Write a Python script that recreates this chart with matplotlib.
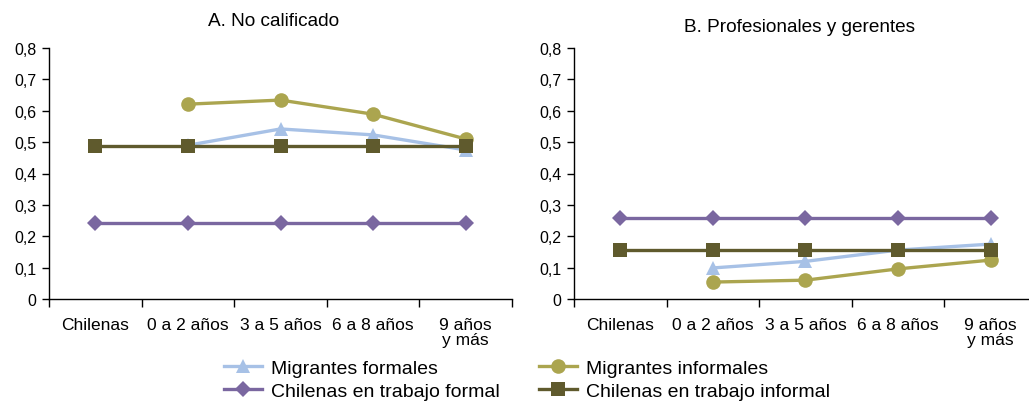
import matplotlib
matplotlib.use("Agg")
import matplotlib.pyplot as plt
from matplotlib.ticker import FixedLocator, NullFormatter

plt.rcParams['font.family'] = ['Liberation Sans', 'DejaVu Sans']

categories = ["Chilenas", "0 a 2 años", "3 a 5 años", "6 a 8 años", "9 años\ny más"]
yticks = [0, 0.1, 0.2, 0.3, 0.4, 0.5, 0.6, 0.7, 0.8]
ytick_labels = ["0", "0,1", "0,2", "0,3", "0,4", "0,5", "0,6", "0,7", "0,8"]

titles = ["A. No calificado", "B. Profesionales y gerentes"]

# Panel A
a_migr_formales = [None, 0.49, 0.542, 0.523, 0.475]
a_migr_informales = [None, 0.621, 0.634, 0.589, 0.51]
a_chil_formal = [0.242, 0.242, 0.242, 0.242, 0.242]
a_chil_informal = [0.489, 0.489, 0.489, 0.489, 0.489]

# Panel B
b_migr_formales = [None, 0.099, 0.12, 0.156, 0.175]
b_migr_informales = [None, 0.054, 0.06, 0.096, 0.124]
b_chil_formal = [0.258, 0.258, 0.258, 0.258, 0.258]
b_chil_informal = [0.155, 0.155, 0.155, 0.155, 0.155]

series_names = ["Migrantes formales", "Migrantes informales",
                "Chilenas en trabajo formal", "Chilenas en trabajo informal"]
colors = ["#a7c1e6", "#aba54f", "#7a67a0", "#5f5a2d"]
markers = ["^", "o", "D", "s"]
msizes = [10, 10.5, 8, 10.5]

fig = plt.figure(figsize=(10.29, 4.02), dpi=100)
W, H = 1029, 402
ax_pos = [(49, 300, 463, 251), (574, 300, 463, 251)]
panels = [
    [a_migr_formales, a_migr_informales, a_chil_formal, a_chil_informal],
    [b_migr_formales, b_migr_informales, b_chil_formal, b_chil_informal],
]
title_y = [21, 27]
title_x = [274, 800]

handles = []
for p, (x0, y0, w, h) in enumerate(ax_pos):
    ax = fig.add_axes([x0 / W, (H - y0) / H, w / W, h / H])
    for s, data in enumerate(panels[p]):
        xs = [i for i, v in enumerate(data) if v is not None]
        ys = [v for v in data if v is not None]
        ln, = ax.plot(xs, ys, color=colors[s], marker=markers[s], markersize=msizes[s],
                      linewidth=2.4, markeredgewidth=0, label=series_names[s], zorder=2 + s)
        if p == 0:
            handles.append(ln)
    ax.set_xlim(-0.5, 4.5)
    ax.set_ylim(0, 0.8)
    ax.set_yticks(yticks)
    ax.set_yticklabels(ytick_labels, fontsize=11.5)
    ax.xaxis.set_major_locator(FixedLocator([-0.5, 0.5, 1.5, 2.5, 3.5, 4.5]))
    ax.xaxis.set_major_formatter(NullFormatter())
    ax.xaxis.set_minor_locator(FixedLocator([0, 1, 2, 3, 4]))
    lbls = ax.set_xticklabels(categories, minor=True, fontsize=12.5)
    for t in lbls:
        t.set_linespacing(1.0)
    ax.tick_params(axis='x', which='minor', length=0, pad=13)
    ax.tick_params(axis='x', which='major', length=6, width=1, direction='out')
    ax.tick_params(axis='y', length=5, width=1, direction='out', pad=4)
    for sp in ['top', 'right']:
        ax.spines[sp].set_visible(False)
    ax.spines['left'].set_linewidth(1)
    ax.spines['bottom'].set_linewidth(1)
    fig.text(title_x[p] / W, 1 - title_y[p] / H, titles[p], ha='center', va='center', fontsize=13.7)

order = [0, 2, 1, 3]
fig.legend(handles=[handles[i] for i in order], loc='upper left',
           bbox_to_anchor=(224 / W, 1 - 360 / H),
           ncol=2, frameon=False, fontsize=14, handlelength=1.95, columnspacing=2.05,
           labelspacing=0.3, handletextpad=0.45, borderpad=0, borderaxespad=0)

fig.savefig("out.png", dpi=100)
